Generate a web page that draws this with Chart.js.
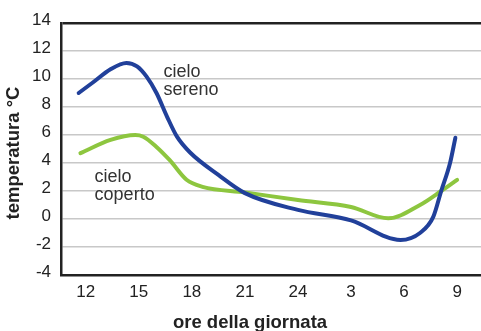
<!DOCTYPE html>
<html>
<head>
<meta charset="utf-8">
<script src="https://cdn.jsdelivr.net/npm/chart.js@4"></script>
<style>
  html, body { margin: 0; padding: 0; background: #fff; }
  canvas { display: block; }
</style>
</head>
<body>
<canvas id="tempChart" width="481" height="331"></canvas>
<script>
// Hours of the day run past midnight, so 27 = 3 in the morning, 33 = 9
const xTickHours = [12, 15, 18, 21, 24, 27, 30, 33];

// Clear sky (cielo sereno)
const serenoHours = [11.6, 12.4, 13.4, 14.3, 14.9, 15.45, 16.0, 16.6, 17.15, 17.9, 19.5, 21.0, 24.0, 27.0, 29.8, 30.9, 31.65, 32.1, 32.6, 32.9];
const serenoTemps = [9.0, 9.75, 10.7, 11.15, 10.9, 10.15, 9.0, 7.3, 5.9, 4.75, 3.15, 1.85, 0.65, -0.1, -1.5, -1.0, 0.15, 2.0, 4.0, 5.8];

// Overcast sky (cielo coperto)
const copertoHours = [11.7, 13.4, 14.8, 15.25, 16.0, 16.75, 17.7, 18.6, 21.0, 24.0, 27.0, 29.1, 30.9, 32.1, 33.0];
const copertoTemps = [4.7, 5.65, 6.0, 5.88, 5.15, 4.2, 2.8, 2.3, 1.9, 1.35, 0.86, 0.05, 1.0, 2.0, 2.8];

const TEXT = '#222';
const FONT = '"Liberation Sans", Arial, Helvetica, sans-serif';

function toPoints(xs, ys) {
    return xs.map((x, i) => ({ x: x, y: ys[i] }));
}

// Curve labels and axis titles drawn straight on the canvas
const labelsPlugin = {
    id: 'curveLabels',
    afterDraw(chart) {
        const ctx = chart.ctx;
        const sx = chart.scales.x;
        const sy = chart.scales.y;
        ctx.save();
        ctx.fillStyle = '#333';
        ctx.font = '18px ' + FONT;
        ctx.textAlign = 'left';
        ctx.textBaseline = 'alphabetic';
        ctx.fillText('cielo', sx.getPixelForValue(16.4), sy.getPixelForValue(10.15));
        ctx.fillText('sereno', sx.getPixelForValue(16.4), sy.getPixelForValue(8.85));
        ctx.fillText('cielo', sx.getPixelForValue(12.5), sy.getPixelForValue(2.64));
        ctx.fillText('coperto', sx.getPixelForValue(12.5), sy.getPixelForValue(1.36));

        ctx.fillStyle = TEXT;
        ctx.font = 'bold 18.5px ' + FONT;
        ctx.textAlign = 'center';
        ctx.fillText('ore della giornata', 250, 328);

        ctx.translate(14, 153);
        ctx.rotate(-Math.PI / 2);
        ctx.textBaseline = 'middle';
        ctx.fillText('temperatura °C', 0, 0);
        ctx.restore();
    }
};

new Chart(document.getElementById('tempChart'), {
    type: 'line',
    data: {
        datasets: [{
            label: 'cielo sereno',
            data: toPoints(serenoHours, serenoTemps),
            borderColor: '#21409a',
            borderWidth: 4,
            borderCapStyle: 'round',
            pointRadius: 0,
            cubicInterpolationMode: 'monotone'
        }, {
            label: 'cielo coperto',
            data: toPoints(copertoHours, copertoTemps),
            borderColor: '#8dc63f',
            borderWidth: 4,
            borderCapStyle: 'round',
            pointRadius: 0,
            cubicInterpolationMode: 'monotone'
        }]
    },
    options: {
        responsive: false,
        animation: false,
        layout: { padding: { top: 23, right: 0, bottom: 0, left: 0 } },
        plugins: {
            legend: { display: false },
            tooltip: { enabled: false }
        },
        scales: {
            x: {
                type: 'linear',
                min: 10.6,
                max: 34.35,
                afterBuildTicks: (scale) => {
                    scale.ticks = xTickHours.map(v => ({ value: v }));
                },
                afterFit: (scale) => { scale.height = 56; },
                grid: { display: false, drawTicks: false },
                border: { display: true, color: TEXT, width: 2.5 },
                ticks: {
                    color: TEXT,
                    font: { family: FONT, size: 17 },
                    padding: 7,
                    maxRotation: 0,
                    callback: (v) => (v > 24 ? v - 24 : v)
                }
            },
            y: {
                min: -4,
                max: 14,
                afterFit: (scale) => { scale.width = 61; },
                grid: {
                    drawTicks: false,
                    color: (c) => (c.tick && c.tick.value === 14 ? TEXT : '#c8c8c8'),
                    lineWidth: (c) => (c.tick && c.tick.value === 14 ? 2.5 : 1.5)
                },
                border: { display: true, color: TEXT, width: 2.5 },
                ticks: {
                    stepSize: 2,
                    color: TEXT,
                    font: { family: FONT, size: 17 },
                    padding: 10,
                    labelOffset: -3
                }
            }
        }
    },
    plugins: [labelsPlugin]
});
</script>
</body>
</html>
